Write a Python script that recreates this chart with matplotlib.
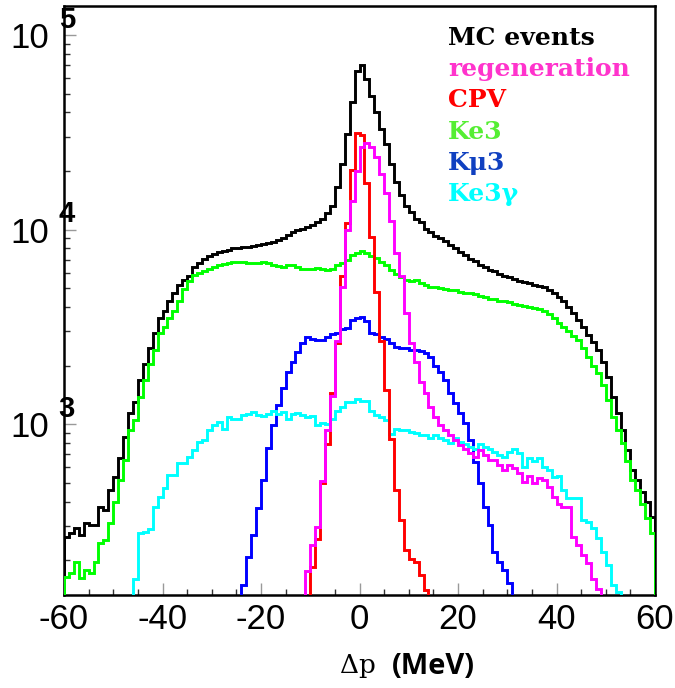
import numpy as np
import matplotlib
matplotlib.use("Agg")
import matplotlib.pyplot as plt
from matplotlib.ticker import MultipleLocator, LogLocator, FixedLocator, FixedFormatter, NullFormatter

# ---------------- data (bin contents, 1 MeV bins) ----------------
x_min, x_max = -60, 60

mc_start = -60
mc_events = [264, 276, 293, 270, 310, 303, 303, 376, 362, 460,
             537, 669, 860, 1140, 1300, 1680, 2050, 2450, 2930, 3500,
             3840, 4320, 4700, 5170, 5500, 5800, 6400, 6750, 7100, 7350,
             7530, 7700, 7800, 7900, 8000, 8050, 8100, 8150, 8200, 8300,
             8400, 8500, 8600, 8850, 9100, 9400, 9700, 9900, 10100, 10300,
             10600, 10900, 11300, 12100, 13250, 16500, 21800, 31000, 45000, 64900,
             70000, 59600, 48700, 40000, 33000, 27600, 21800, 17500, 15000, 13250,
             12300, 11400, 10900, 10100, 9700, 9300, 9000, 8700, 8300, 8000,
             7700, 7400, 7100, 6900, 6600, 6400, 6200, 6100, 5900, 5800,
             5700, 5600, 5450, 5350, 5290, 5200, 5150, 5050, 4870, 4750,
             4500, 4300, 4000, 3750, 3420, 3150, 2860, 2650, 2400, 2100,
             1750, 1380, 1140, 930, 735, 580, 516, 450, 400, 335]

ke3_start = -60
ke3 = [165, 172, 196, 162, 178, 172, 196, 245, 254, 310,
       400, 516, 654, 930, 1050, 1380, 1680, 2050, 2400, 2930,
       3150, 3500, 3800, 4300, 4970, 5470, 5810, 6000, 6160, 6300,
       6400, 6550, 6680, 6750, 6800, 6850, 6800, 6750, 6700, 6750,
       6800, 6700, 6600, 6500, 6450, 6550, 6600, 6400, 6300, 6300,
       6250, 6350, 6250, 6200, 6300, 6540, 6700, 6980, 7440, 7600,
       7760, 7600, 7350, 7140, 6800, 6540, 6200, 5900, 5700, 5540,
       5430, 5500, 5300, 5220, 5100, 5050, 5000, 4950, 4870, 4900,
       4800, 4750, 4700, 4650, 4550, 4500, 4420, 4380, 4300, 4280,
       4230, 4150, 4100, 4050, 4000, 3950, 3900, 3800, 3700, 3500,
       3300, 3150, 3030, 2850, 2700, 2450, 2210, 2000, 1830, 1600,
       1330, 1090, 930, 800, 650, 516, 460, 390, 330, 276]

kmu3_start = -24
kmu3 = [150, 209, 270, 371, 516, 753, 990, 1250, 1530, 1850,
        2100, 2350, 2630, 2800, 2740, 2720, 2720, 2800, 2910, 2960,
        3100, 3140, 3450, 3520, 3560, 3400, 2960, 2900, 2800, 2740,
        2630, 2500, 2470, 2470, 2420, 2400, 2380, 2330, 2210, 2000,
        1850, 1680, 1440, 1280, 1140, 1010, 828, 640, 500, 376,
        303, 221, 196, 178, 153]

ke3g_start = -46
ke3g = [160, 276, 280, 290, 376, 424, 470, 547, 547, 630,
        630, 680, 736, 811, 830, 930, 990, 1030, 950, 1090,
        1070, 1070, 1110, 1130, 1160, 1110, 1100, 1130, 1165, 1130,
        1160, 1070, 1130, 1140, 1110, 1090, 1100, 990, 1020, 1000,
        1060, 1165, 1220, 1300, 1300, 1350, 1310, 1320, 1165, 1110,
        1090, 1050, 890, 950, 930, 930, 910, 900, 880, 880,
        850, 880, 850, 830, 800, 850, 815, 790, 765, 750,
        790, 765, 750, 720, 693, 680, 720, 750, 710, 605,
        670, 650, 670, 605, 580, 537, 545, 460, 417, 417,
        417, 322, 315, 293, 260, 220, 190, 150, 137]

cpv_start = -10
cpv = [184, 257, 500, 790, 1440, 2630, 5800, 10800, 20200, 31300,
       30600, 17400, 9150, 4800, 2680, 1500, 838, 458, 322, 226,
       204, 195, 168, 140]

regen_start = -11
regen = [176, 240, 296, 510, 930, 1400, 2680, 5100, 10000, 14000,
         20000, 26500, 28000, 26500, 23500, 19300, 15500, 11100, 7600, 5800,
         3750, 2600, 2090, 1650, 1440, 1230, 1090, 990, 930, 880,
         830, 780, 750, 710, 680, 736, 695, 654, 654, 620,
         580, 616, 595, 560, 506, 545, 500, 530, 520, 477,
         424, 390, 376, 376, 264, 240, 213, 194, 160, 143]

labels = ["MC events", "regeneration", "CPV", "Ke3", "K\u03bc3", "Ke3\u03b3"]
x_ticks = [-60, -40, -20, 0, 20, 40, 60]
y_decades = [3, 4, 5]

# ---------------- figure ----------------
W, H = 675, 688
fig = plt.figure(figsize=(W / 100, H / 100), dpi=100)
L, R, T, B = 64, 655, 6, 595
ax = fig.add_axes([L / W, 1 - B / H, (R - L) / W, (B - T) / H])
ax.set_yscale("log")
ax.set_xlim(x_min, x_max)
ax.set_ylim(132.7, 1.408e5)

lw = 2.1
series = [
    (mc_start, mc_events, "#000000"),
    (ke3_start, ke3, "#00ff00"),
    (kmu3_start, kmu3, "#0000ff"),
    (ke3g_start, ke3g, "#00ffff"),
    (cpv_start, cpv, "#ff0000"),
    (regen_start, regen, "#ff00ff"),
]
for z, (start, vals, col) in enumerate(series):
    edges = np.arange(start, start + len(vals) + 1)
    ax.stairs(vals, edges, baseline=1.0, color=col, lw=lw, zorder=3 + z * 0.1)

# spines
for s in ax.spines.values():
    s.set_linewidth(1.8)
    s.set_color("black")
    s.set_zorder(2.5)

# x ticks
ax.xaxis.set_major_locator(FixedLocator(x_ticks))
ax.xaxis.set_minor_locator(MultipleLocator(5))
ax.tick_params(axis="x", which="major", direction="in", length=8.5, width=1.0,
               color="#999999", labelsize=25, pad=6, top=False)
ax.tick_params(axis="x", which="minor", direction="in", length=4.5, width=1.0,
               color="#333333", top=False)
ax.set_xticklabels([str(t) for t in x_ticks], fontfamily="Liberation Sans", fontsize=25)

# y ticks
ax.yaxis.set_major_locator(FixedLocator([10.0 ** d for d in y_decades]))
ax.yaxis.set_major_formatter(FixedFormatter(["10"] * len(y_decades)))
ax.yaxis.set_minor_locator(LogLocator(base=10, subs=np.arange(2, 10)))
ax.yaxis.set_minor_formatter(NullFormatter())
ax.tick_params(axis="y", which="major", direction="in", length=8.5, width=1.0,
               color="#999999", labelsize=25, pad=11, right=False)
ax.tick_params(axis="y", which="minor", direction="in", length=4.5, width=1.0,
               color="#333333", right=False)
for lab in ax.get_yticklabels():
    lab.set_fontfamily("Liberation Sans")

# exponents
for d in y_decades:
    ax.annotate(str(d), xy=(0, 10.0 ** d), xycoords=("axes fraction", "data"),
                xytext=(2.0, 11), textcoords="offset points", ha="center", va="center",
                fontsize=21, fontweight="bold", fontfamily="Liberation Sans",
                annotation_clip=False, zorder=6)

# legend (text only)
leg_cols = ["#000000", "#ff33cc", "#ff0000", "#55ee33", "#1040c0", "#00ffff"]
base_px = [45, 76, 107, 139, 170, 201]
for lab, col, by in zip(labels, leg_cols, base_px):
    ax.text((448 - L) / (R - L), (B - by) / (B - T), lab, transform=ax.transAxes,
            color=col, fontsize=18, fontweight="bold", fontfamily="DejaVu Serif",
            ha="left", va="baseline", zorder=7)

# x axis title
fig.text(340 / W, 1 - 673 / H, "\u0394p", fontsize=19, fontfamily="DejaVu Serif",
         ha="left", va="baseline")
fig.text(392 / W, 1 - 674 / H, "(MeV)", fontsize=21, fontweight="bold",
         fontfamily="Open Sans", ha="left", va="baseline")

fig.savefig("out.png", dpi=100)
